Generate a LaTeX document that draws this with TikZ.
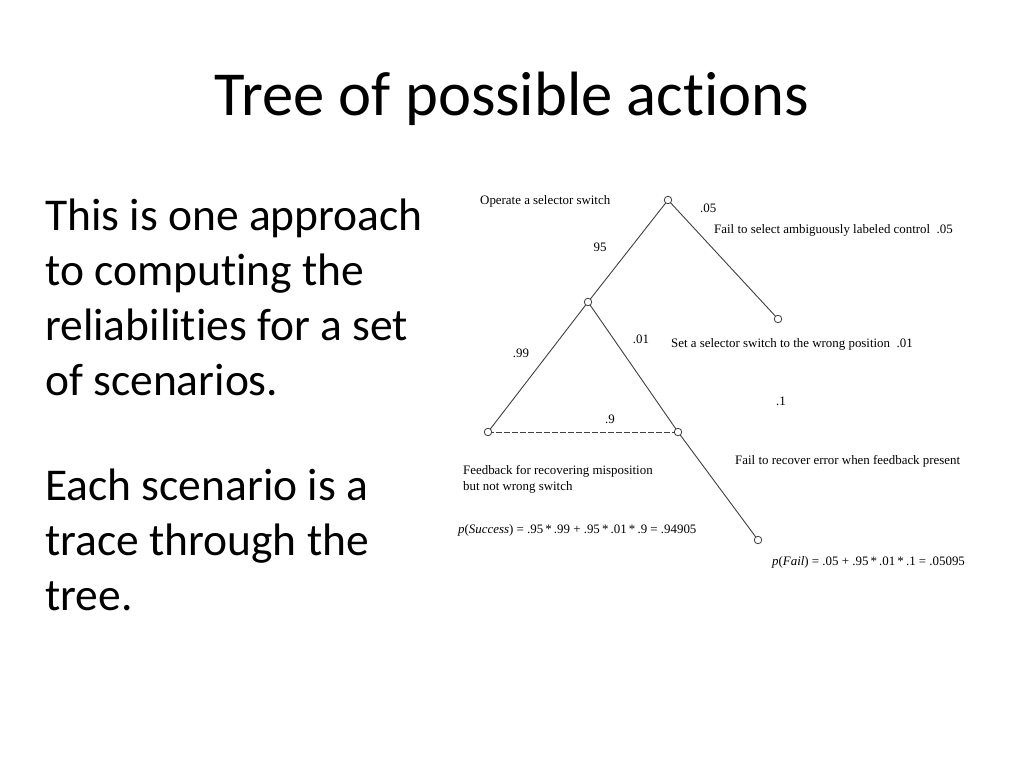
\documentclass[tikz,border=0pt]{standalone}
\usepackage{fontspec}
\setmainfont{Carlito}[Ligatures={NoCommon,NoContextual}]
\newfontfamily\treefont{Liberation Serif}
\begin{document}
\begin{tikzpicture}[x=1pt,y=-1pt,
  vtx/.style={circle,draw=black!75,fill=white,line width=0.8pt,minimum size=7.5pt,inner sep=0pt},
  edge/.style={draw=black!75,line width=0.9pt},
  lbl/.style={inner sep=0pt,font=\treefont\fontsize{12.9}{16}\selectfont,text=black},
  slide/.style={inner sep=0pt,anchor=base west,font=\fontsize{45.5}{55}\selectfont}]
\useasboundingbox[fill=white] (0,0) rectangle (1024,768);
% title
\node[inner sep=0pt,anchor=base,font=\fontsize{62.6}{70}\selectfont] (title) at (512,115) {Tree of possible actions};
% left text
\node[slide] (t1) at (45,230) {This is one approach};
\node[slide] (t2) at (45,285) {to computing the};
\node[slide] (t3) at (45,340) {reliabilities for a set};
\node[slide] (t4) at (45,395) {of scenarios.};
\node[slide] (t5) at (45,500) {Each scenario is a};
\node[slide] (t6) at (45,555) {trace through the};
\node[slide] (t7) at (45,610) {tree.};
% tree vertices
\coordinate (A) at (668,200);
\coordinate (B) at (778,319);
\coordinate (C) at (588,302);
\coordinate (D) at (488,432);
\coordinate (E) at (678,432);
\coordinate (F) at (758,540);
\draw[edge] (A) -- (B);
\draw[edge] (A) -- (C);
\draw[edge] (C) -- (D);
\draw[edge] (C) -- (E);
\draw[edge] (E) -- (F);
\draw[edge,dash pattern=on 6pt off 2pt] (D) -- (E);
\foreach \v in {A,B,C,D,E,F} \node[vtx] (n\v) at (\v) {};
% labels
\node[lbl,anchor=west] (l1) at (480,201) {Operate a selector switch};
\node[lbl,anchor=west] (l2) at (700,208) {.05};
\node[lbl,anchor=west] (l3) at (714,230) {Fail to select ambiguously labeled control\ \ .05};
\node[lbl] (l4) at (600,247) {95};
\node[lbl] (l5) at (641,339) {.01};
\node[lbl,anchor=west] (l6) at (671,344) {Set a selector switch to the wrong position\ \ .01};
\node[lbl] (l7) at (521,353) {.99};
\node[lbl] (l8) at (781,401) {.1};
\node[lbl] (l9) at (610,419) {.9};
\node[lbl,anchor=west] (l10) at (735,461) {Fail to recover error when feedback present};
\node[lbl,anchor=west,align=left] (l11) at (463,479.5) {Feedback for recovering misposition\\but not wrong switch};
\node[lbl,anchor=west] (l12) at (458,530) {\textit{p}(\textit{Success}) = .95\thinspace*\thinspace.99 + .95\thinspace*\thinspace.01\thinspace*\thinspace.9 = .94905};
\node[lbl,anchor=west] (l13) at (772,562) {\textit{p}(\textit{Fail}) = .05 + .95\thinspace*\thinspace.01\thinspace*\thinspace.1 = .05095};
\end{tikzpicture}
\end{document}
